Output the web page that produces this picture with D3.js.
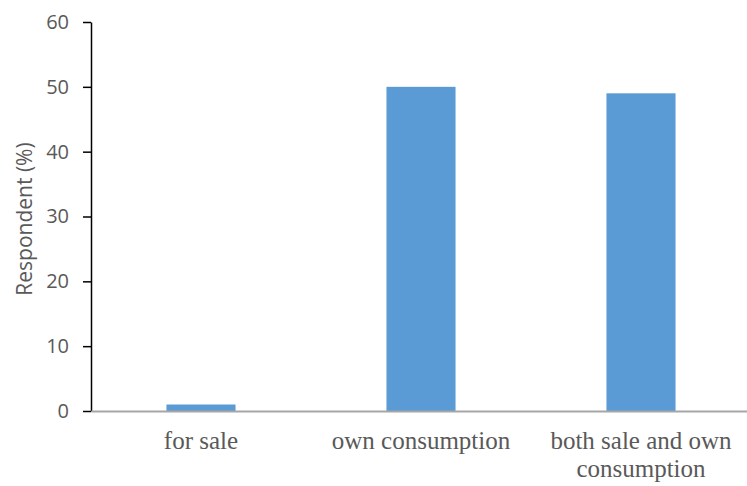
<!DOCTYPE html>
<html>
<head>
<meta charset="utf-8">
<script src="https://cdn.jsdelivr.net/npm/d3@7"></script>
<style>
html,body{margin:0;padding:0;background:#fff;}
svg{display:block;}
</style>
</head>
<body>
<svg id="chart" width="747" height="486"></svg>
<script>
const categories = [["for sale"], ["own consumption"], ["both sale and own", "consumption"]];
const categoryKeys = ["for sale", "own consumption", "both sale and own consumption"];
const values = [1, 50, 49];
const yTicks = [0, 10, 20, 30, 40, 50, 60];
const yTitle = "Respondent (%)";

(function () {
const svg = d3.select("#chart");
const mLeft = 91, mRight = 751, mTop = 22, mBottom = 411;

const x = d3.scaleBand().domain(categoryKeys).range([mLeft, mRight])
  .paddingInner(0.686).paddingOuter(0.343);
const y = d3.scaleLinear().domain([0, 60]).range([mBottom, mTop]);

// bars
svg.append("g").selectAll("rect").data(values).join("rect")
  .attr("x", (d, i) => x(categoryKeys[i]))
  .attr("width", x.bandwidth())
  .attr("y", d => y(d))
  .attr("height", d => y(0) - y(d))
  .attr("fill", "#5B9BD5");

// y axis
const yAxis = svg.append("g").attr("transform", `translate(${mLeft},0)`)
  .call(d3.axisLeft(y).tickValues(yTicks).tickSize(8).tickPadding(14).tickSizeOuter(0));
yAxis.select(".domain").attr("stroke", "#000").attr("stroke-width", 1.5);
yAxis.selectAll(".tick line").attr("stroke", "#000").attr("stroke-width", 1.5);
yAxis.selectAll(".tick text")
  .attr("font-family", "'Open Sans', sans-serif").attr("font-size", 20).attr("fill", "#595959");

// baseline
const xAxis = svg.append("g").attr("transform", `translate(0,${y(0)})`)
  .call(d3.axisBottom(x).tickSize(0).tickFormat(""));
xAxis.select(".domain").attr("stroke", "#A6A6A6").attr("stroke-width", 2);

// x labels
const lbl = svg.append("g");
categoryKeys.forEach((k, i) => {
  const t = lbl.append("text")
    .attr("x", x(k) + x.bandwidth() / 2)
    .attr("y", 449)
    .attr("text-anchor", "middle")
    .attr("font-family", "'Liberation Serif', 'Times New Roman', serif")
    .attr("font-size", 25)
    .attr("fill", "#595959");
  categories[i].forEach((line, j) => {
    t.append("tspan").attr("x", x(k) + x.bandwidth() / 2).attr("dy", j === 0 ? 0 : 28).text(line);
  });
});

// y title
svg.append("text")
  .attr("transform", `translate(32,219) rotate(-90)`)
  .attr("text-anchor", "middle")
  .attr("font-family", "'Open Sans', sans-serif")
  .attr("font-size", 21)
  .attr("fill", "#595959")
  .text(yTitle);
})();
</script>
</body>
</html>
